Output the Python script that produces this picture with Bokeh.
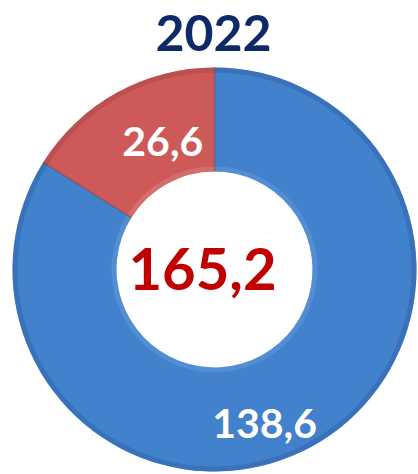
import math
from bokeh.plotting import figure
from bokeh.models import Range1d
from bokeh.core.properties import value
from bokeh.embed import file_html
from bokeh.resources import INLINE

# ---- data ----
title_text = "2022"
categories = ["A", "B"]
values = [26.6, 138.6]
labels = ["26,6", "138,6"]
colors = ["#CD5A59", "#4281CC"]
total = sum(values)

# ---- layout (page pixel coords mapped to data units) ----
W, H = 418, 474
p = figure(width=W, height=H, output_backend="svg", toolbar_location=None,
           x_range=Range1d(0, W), y_range=Range1d(0, H), min_border=0)
p.axis.visible = False
p.grid.visible = False
p.outline_line_color = None
p.background_fill_color = "white"
p.border_fill_color = "white"

cx, cy = 214, H - 269
r_out, r_in = 202, 98

# angles: start at 12 o'clock, go counter-clockwise
starts, ends = [], []
acc = math.pi / 2
for v in values:
    a = v / total * 2 * math.pi
    starts.append(acc)
    ends.append(acc + a)
    acc += a

p.annular_wedge(x=[cx] * len(values), y=[cy] * len(values), inner_radius=r_in, outer_radius=r_out,
                start_angle=starts, end_angle=ends, fill_color=colors, line_color=None)
# bevel effect: darker outer edge, lighter inner edge
dark = ["#A84645", "#2F64A6"]
light = ["#E08A89", "#6FA3E0"]
p.annular_wedge(x=[cx] * 2, y=[cy] * 2, inner_radius=r_out - 5, outer_radius=r_out,
                start_angle=starts, end_angle=ends, fill_color=dark, fill_alpha=0.5, line_color=None)
p.annular_wedge(x=[cx] * 2, y=[cy] * 2, inner_radius=r_in, outer_radius=r_in + 5,
                start_angle=starts, end_angle=ends, fill_color=light, fill_alpha=0.4, line_color=None)
# separators
for a in starts:
    p.segment(x0=cx + r_in * math.cos(a), y0=cy + r_in * math.sin(a),
              x1=cx + r_out * math.cos(a), y1=cy + r_out * math.sin(a),
              line_color="#8a3a3a", line_width=1.5, line_alpha=0.6)

# labels
lab_r = [138, 162]
lab_ang = [math.radians(112), math.radians(288)]
lx = [cx + r * math.cos(a) for r, a in zip(lab_r, lab_ang)]
ly = [cy + r * math.sin(a) for r, a in zip(lab_r, lab_ang)]
p.text(x=lx, y=ly, text=labels, text_color="white", text_font=value("Lato"),
       text_font_style="bold", text_font_size="41px", text_align="center",
       text_baseline="middle")

# center total
p.text(x=[202], y=[cy + 1], text=[f"{total:.1f}".replace(".", ",")], text_color="#C00000",
       text_font=value("Lato"), text_font_style="bold", text_font_size="58px",
       text_align="center", text_baseline="middle")

# title
p.text(x=[213], y=[H - 32], text=[title_text], text_color="#0E2A66",
       text_font=value("Lato"), text_font_style="bold", text_font_size="50px",
       text_align="center", text_baseline="middle")

open("out.html", "w").write(file_html(p, INLINE))
